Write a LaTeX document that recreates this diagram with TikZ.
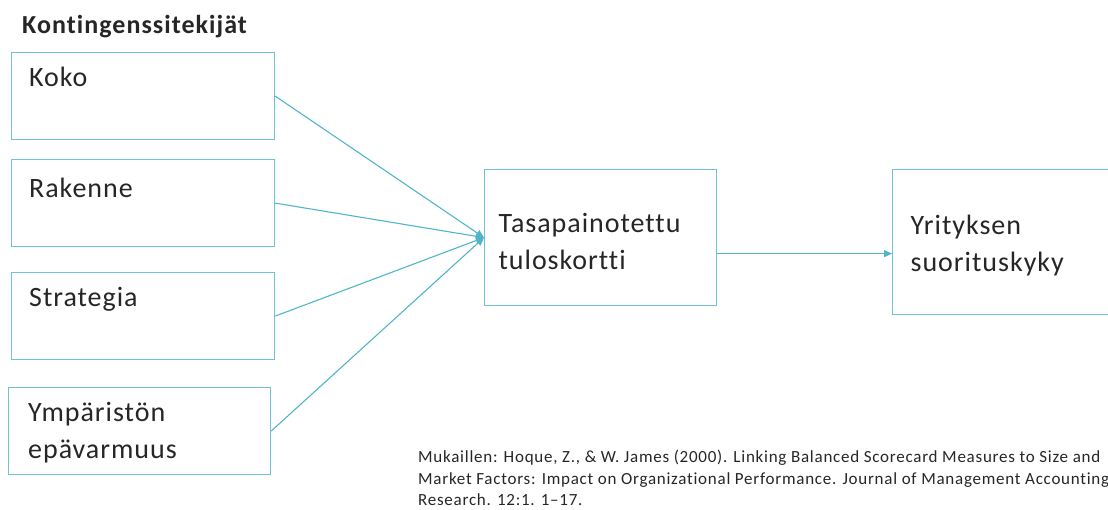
\documentclass[tikz,border=0pt]{standalone}
\usepackage{fontspec}
\setmainfont{Carlito}[Ligatures=NoCommon]
\newfontfamily\boxfont{Carlito}[Ligatures=NoCommon, LetterSpace=3.5]
\newfontfamily\titlefont{Carlito}[Ligatures=NoCommon, LetterSpace=4]
\newfontfamily\notefont{Carlito}[Ligatures=NoCommon, LetterSpace=4.4]
\usetikzlibrary{arrows.meta}
\definecolor{boxline}{RGB}{112,194,212}
\definecolor{arrowline}{RGB}{80,181,203}
\definecolor{ink}{RGB}{38,38,38}

\begin{document}
\begin{tikzpicture}[x=1pt, y=-1pt,
  factor/.style={draw=boxline, line width=1.2pt, minimum width=263pt, minimum height=87pt, anchor=north west, inner sep=0pt},
  factortext/.style={anchor=north west, inner sep=0pt, xshift=18pt, yshift=-15pt, align=left, text=ink, font=\boxfont\fontsize{28}{37}\selectfont},
  stage/.style={draw=boxline, line width=1.2pt, anchor=north west, align=left, text=ink, font=\boxfont\fontsize{28}{37}\selectfont},
  link/.style={draw=arrowline, line width=1.1pt, -{Triangle[length=8pt,width=7pt]}}]
  \clip (0,0) rectangle (1108,509);

  \node[anchor=base west, inner sep=0pt, text=ink, font=\titlefont\fontsize{26}{30}\selectfont\bfseries] (title) at (22,33) {Kontingenssitekijät};

  % vasemman reunan tekijat
  \node[factor, label={[factortext]north west:Koko}] (koko) at (11,52) {};
  \node[factor, label={[factortext, yshift=-4pt]north west:Rakenne}] (rakenne) at (11,159) {};
  \node[factor, label={[factortext]north west:Strategia}] (strategia) at (11,272) {};
  \node[factor, minimum width=262pt, label={[factortext, xshift=2pt]north west:{Ympäristön\\epävarmuus}}] (ymparisto) at (8,387) {};

  \node[stage, text width=204pt, inner xsep=14pt, minimum height=136pt] (tasapaino) at (484,169) {\rule{0pt}{27pt}Tasapainotettu\\tuloskortti};
  \node[stage, text width=200pt, inner xsep=18pt, minimum height=145pt] (suoritus) at (892,169) {\rule{0pt}{27pt}Yrityksen\\suorituskyky};

  \draw[link] (koko.east) -- (tasapaino.west);
  \draw[link] (rakenne.east) -- (tasapaino.west);
  \draw[link] (strategia.east) -- (tasapaino.west);
  \draw[link] (ymparisto.east) -- (tasapaino.west);
  \draw[link] ([yshift=-16pt]tasapaino.east) -- ([yshift=-16pt]tasapaino.east -| suoritus.west);

  \node[anchor=north west, inner sep=0pt, align=left, text=ink, font=\notefont\fontsize{17}{21.5}\selectfont] (lahde) at (418,450) {Mukaillen: Hoque, Z., \& W. James (2000). Linking Balanced Scorecard Measures to Size and\\Market Factors: Impact on Organizational Performance. Journal of Management Accounting\\Research. 12:1. 1–17.};
\end{tikzpicture}
\end{document}
